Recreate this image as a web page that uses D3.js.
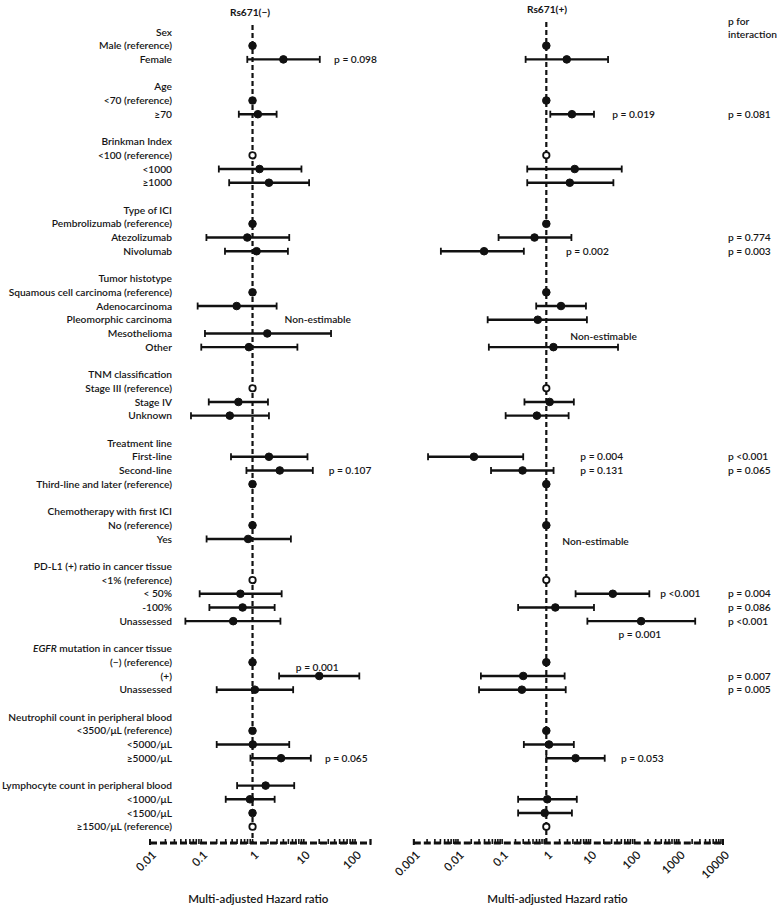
<!DOCTYPE html>
<html><head><meta charset="utf-8">
<script src="https://cdn.jsdelivr.net/npm/d3@7/dist/d3.min.js"></script>
<style>
body{margin:0;background:#fff;}
text{font-family:Lato,"Open Sans",sans-serif;fill:#151515;}
</style></head>
<body><svg id="c" width="778" height="907"></svg>
<script>
// ---------- DATA ----------
const rowLabels = [
 "Sex","Male (reference)","Female","",
 "Age","<70 (reference)","≥70","",
 "Brinkman Index","<100 (reference)","<1000","≥1000","",
 "Type of ICI","Pembrolizumab (reference)","Atezolizumab","Nivolumab","",
 "Tumor histotype","Squamous cell carcinoma (reference)","Adenocarcinoma","Pleomorphic carcinoma","Mesothelioma","Other","",
 "TNM classification","Stage III (reference)","Stage IV","Unknown","",
 "Treatment line","First-line","Second-line","Third-line and later (reference)","",
 "Chemotherapy with first ICI","No (reference)","Yes","",
 "PD-L1 (+) ratio in cancer tissue","<1% (reference)","< 50%","-100%","Unassessed","",
 "EGFR mutation in cancer tissue","(−) (reference)","(+)","Unassessed","",
 "Neutrophil count in peripheral blood","<3500/μL (reference)","<5000/μL","≥5000/μL","",
 "Lymphocyte count in peripheral blood","<1000/μL","<1500/μL","≥1500/μL (reference)"
];
// hollow reference markers (row indexes)
const hollowRows = [9, 26, 40, 58];

// Rs671(-) : row index, HR, lower, upper
const leftRows = [1,2,5,6,9,10,11,14,15,16,19,20,22,23,26,27,28,31,32,33,36,37,40,41,42,43,46,47,48,51,52,53,55,56,57,58];
const leftHR   = [1,4.0,1,1.27,1,1.37,2.09,1,0.79,1.2,1,0.49,1.94,0.85,1,0.53,0.36,2.09,3.4,1,1,0.82,1,0.58,0.64,0.42,1,20,1.11,1,1.01,3.6,1.8,0.89,1,1];
const leftLo   = [null,0.79,null,0.54,null,0.22,0.35,null,0.126,0.29,null,0.085,0.118,0.10,null,0.14,0.063,0.38,0.76,null,null,0.127,null,0.093,0.144,0.049,null,3.3,0.2,null,0.2,0.91,0.5,0.30,null,null];
const leftHi   = [null,20.5,null,2.95,null,9.0,12.7,null,5.2,4.9,null,2.95,34,7.5,null,2.0,2.09,11.8,15,null,null,5.6,null,3.7,2.7,3.5,null,121,6.2,null,5.2,13.7,6.5,2.7,null,null];

// Rs671(+)
const rightRows = [1,2,5,6,9,10,11,14,15,16,19,20,21,23,26,27,28,31,32,33,36,40,41,42,43,46,47,48,51,52,53,56,57,58];
const rightHR   = [1,2.9,1,3.8,1,4.4,3.4,1,0.54,0.039,1,2.15,0.64,1.45,1,1.19,0.61,0.023,0.29,1,1,1,32,1.6,140,1,0.30,0.28,1,1.15,4.6,1.05,0.92,1];
const rightLo   = [null,0.34,null,1.23,null,0.37,0.37,null,0.083,0.0041,null,0.59,0.047,0.05,null,0.32,0.12,0.0021,0.056,null,null,null,4.6,0.23,8.5,null,0.033,0.030,null,0.31,1.0,0.23,0.23,null];
const rightHi   = [null,25,null,12,null,51,33,null,3.7,0.31,null,7.9,8.3,42,null,4.2,3.2,0.30,1.46,null,null,null,215,12,2350,null,2.6,2.75,null,4.2,21,4.9,3.8,null];

// text annotations: row, text, anchor (in hazard-ratio units)
const leftNotes = [
 {row:2, text:"p = 0.098", at:39},
 {row:21, text:"Non-estimable", at:4.2},
 {row:32, text:"p = 0.107", at:30.5},
 {row:46.35, text:"p = 0.001", at:7.0},
 {row:53, text:"p = 0.065", at:25.8}
];
const rightNotes = [
 {row:6, text:"p = 0.019", at:31},
 {row:16, text:"p = 0.002", at:2.8},
 {row:22.2, text:"Non-estimable", at:3.5},
 {row:31, text:"p = 0.004", at:5.9},
 {row:32, text:"p = 0.131", at:5.9},
 {row:37.2, text:"Non-estimable", at:2.3},
 {row:41, text:"p <0.001", at:380},
 {row:44, text:"p = 0.001", at:43},
 {row:53, text:"p = 0.053", at:49}
];
// p for interaction
const interRows = [6,15,16,31,32,41,42,43,47,48];
const interText = ["p = 0.081","p = 0.774","p = 0.003","p <0.001","p = 0.065","p = 0.004","p = 0.086","p <0.001","p = 0.007","p = 0.005"];

const leftTicks  = [0.01,0.1,1,10,100];
const rightTicks = [0.001,0.01,0.1,1,10,100,1000,10000];
const leftDomain = [0.01,200];
const rightDomain = [0.001,10000];

// ---------- DRAW ----------
const svg = d3.select("#c");
const y = d3.scaleLinear().domain([0, rowLabels.length-1]).range([32, 826.7]);
const xL = d3.scaleLog().domain(leftDomain).range([150, 370.5]);
const xR = d3.scaleLog().domain(rightDomain).range([413.8, 723]);
const axisY = 843;
const FS = 10.2;

// row labels
const lab = svg.append("g");
rowLabels.forEach((t,i)=>{
  if(!t) return;
  const tx = lab.append("text").attr("x",172).attr("y",y(i)).attr("dy","0.35em")
    .attr("text-anchor","end").attr("font-size",FS).attr("font-weight",600);
  if(t.startsWith("EGFR")){
    tx.append("tspan").attr("font-style","italic").text("EGFR");
    tx.append("tspan").text(t.slice(4));
  } else tx.text(t);
});

function panel(x, rows, hr, lo, hi, notes, ticks, title, titleX){
  const g = svg.append("g");
  const isL = title==="Rs671(−)";
  // reference line
  g.append("line").attr("x1",x(1)).attr("x2",x(1)).attr("y1",isL?25:22).attr("y2",axisY)
    .attr("stroke","#111").attr("stroke-width",2.2).attr("stroke-dasharray","5,3");
  // axis
  const ax = g.append("g").attr("transform",`translate(0,${axisY})`);
  ax.append("line").attr("x1",x.range()[0]).attr("x2",x.range()[1]).attr("y1",0).attr("y2",0)
    .attr("stroke","#111").attr("stroke-width",3).attr("stroke-dasharray","7,3");
  const minor = [];
  const [d0,d1] = x.domain();
  for(let e=Math.floor(Math.log10(d0)); e<=Math.ceil(Math.log10(d1)); e++){
    for(let m=1;m<10;m++){ const v=m*Math.pow(10,e); if(v>=d0 && v<=d1) minor.push(v); }
  }
  ax.selectAll("line.mn").data(minor).join("line").attr("class","mn")
    .attr("x1",d=>x(d)).attr("x2",d=>x(d)).attr("y1",1).attr("y2",-4)
    .attr("stroke","#111").attr("stroke-width",1.6);
  [x.range()[0], x.range()[1]].forEach(px=>{
    ax.append("line").attr("x1",px).attr("x2",px).attr("y1",-4).attr("y2",2).attr("stroke","#111").attr("stroke-width",2);
  });
  ax.selectAll("text.tk").data(ticks).join("text").attr("class","tk")
    .attr("transform",d=>`translate(${x(d)+4},${10}) rotate(-45)`)
    .attr("text-anchor","end").attr("dy","0.35em").attr("font-size",11.5).attr("font-weight",600)
    .text(d=>String(d));
  // title
  g.append("text").attr("x",titleX).attr("y",isL?12:9).attr("dy","0.35em")
    .attr("text-anchor","middle").attr("font-size",FS).attr("font-weight",700).text(title);
  g.append("text").attr("x",(x.range()[0]+x.range()[1])/2 + (isL?-2:-11)).attr("y",899).attr("dy","0.35em")
    .attr("text-anchor","middle").attr("font-size",11.5).attr("font-weight",600).text("Multi-adjusted Hazard ratio");
  // CIs
  rows.forEach((r,i)=>{
    if(lo[i]==null) return;
    const yy=y(r);
    g.append("line").attr("x1",x(lo[i])).attr("x2",x(hi[i])).attr("y1",yy).attr("y2",yy).attr("stroke","#111").attr("stroke-width",2.4);
    [lo[i],hi[i]].forEach(v=>g.append("line").attr("x1",x(v)).attr("x2",x(v)).attr("y1",yy-3.5).attr("y2",yy+3.5).attr("stroke","#111").attr("stroke-width",1.8));
  });
  rows.forEach((r,i)=>{
    const hollow = hollowRows.includes(r);
    g.append("circle").attr("cx",x(hr[i])).attr("cy",y(r)).attr("r",hollow?3.2:3.8)
      .attr("fill",hollow?"#fff":"#111").attr("stroke","#111").attr("stroke-width",hollow?1.8:1);
  });
  notes.forEach(n=>{
    g.append("text").attr("x",x(n.at)).attr("y",y(n.row)).attr("dy","0.35em")
      .attr("font-size",FS).attr("font-weight",600).text(n.text);
  });
}
panel(xL, leftRows, leftHR, leftLo, leftHi, leftNotes, leftTicks, "Rs671(−)", 250);
panel(xR, rightRows, rightHR, rightLo, rightHi, rightNotes, rightTicks, "Rs671(+)", 547);

// p for interaction
const pg = svg.append("g");
pg.append("text").attr("x",728).attr("y",21).attr("dy","0.35em").attr("font-size",FS).attr("font-weight",600).text("p for");
pg.append("text").attr("x",728).attr("y",34).attr("dy","0.35em").attr("font-size",FS).attr("font-weight",600).text("interaction");
interRows.forEach((r,i)=>{
  pg.append("text").attr("x",728).attr("y",y(r)).attr("dy","0.35em").attr("font-size",FS).attr("font-weight",600).text(interText[i]);
});
</script></body></html>
